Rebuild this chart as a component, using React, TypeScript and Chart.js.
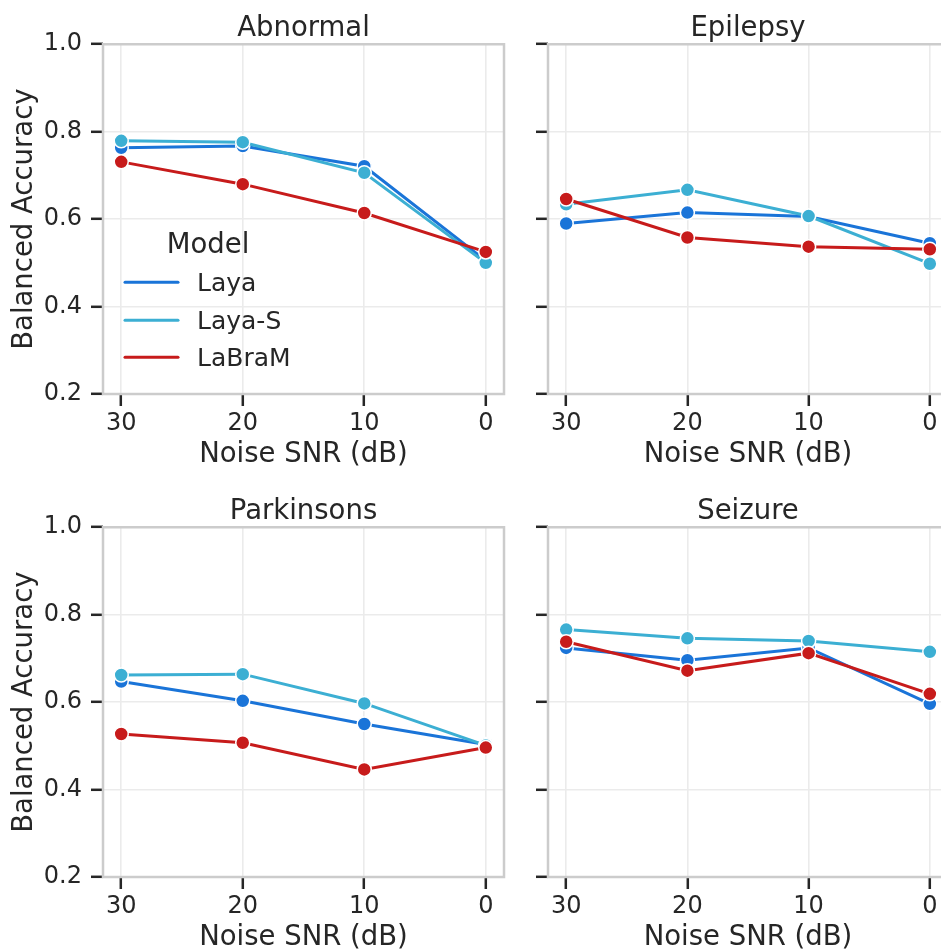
import React, { useEffect, useRef } from "react";
import { Chart, registerables } from "chart.js";

Chart.register(...registerables);

// ---------------- data ----------------
const SNR = [30, 20, 10, 0];
const X_TICKS = [30, 20, 10, 0];
const Y_TICKS = [0.2, 0.4, 0.6, 0.8, 1.0];
const MODELS = ["Laya", "Laya-S", "LaBraM"];
const COLORS = ["#1a74d8", "#3cafd3", "#c71b1b"];

const ABNORMAL_LAYA = [0.763, 0.767, 0.721, 0.505];
const ABNORMAL_LAYA_S = [0.779, 0.776, 0.706, 0.5];
const ABNORMAL_LABRAM = [0.731, 0.68, 0.614, 0.525];

const EPILEPSY_LAYA = [0.59, 0.615, 0.606, 0.545];
const EPILEPSY_LAYA_S = [0.634, 0.667, 0.607, 0.498];
const EPILEPSY_LABRAM = [0.646, 0.558, 0.537, 0.531];

const PARKINSONS_LAYA = [0.647, 0.603, 0.55, 0.503];
const PARKINSONS_LAYA_S = [0.662, 0.664, 0.597, 0.501];
const PARKINSONS_LABRAM = [0.527, 0.507, 0.446, 0.496];

const SEIZURE_LAYA = [0.724, 0.696, 0.724, 0.596];
const SEIZURE_LAYA_S = [0.766, 0.746, 0.74, 0.715];
const SEIZURE_LABRAM = [0.738, 0.672, 0.712, 0.619];

// ---------------- styling ----------------
const FONT = "'DejaVu Sans', 'Liberation Sans', sans-serif";
const TEXT = "#262626";
const GRID = "#ebebeb";
const SPINE = "#cccccc";

const spinesPlugin = {
  id: "spines",
  beforeDatasetsDraw(chart: any) {
    const { ctx, chartArea: a } = chart;
    ctx.save();
    ctx.strokeStyle = SPINE;
    ctx.lineWidth = 2.5;
    ctx.strokeRect(a.left, a.top, a.right - a.left, a.bottom - a.top);
    ctx.restore();
  },
};

const legendPlugin = {
  id: "modelLegend",
  afterDatasetsDraw(chart: any) {
    const { ctx, chartArea: a } = chart;
    ctx.save();
    ctx.fillStyle = TEXT;
    ctx.textBaseline = "alphabetic";
    ctx.textAlign = "center";
    ctx.font = `27.5px ${FONT}`;
    ctx.fillText("Model", a.left + 105, a.top + 209);
    const lineY = [238, 276, 313];
    const textY = [247, 284.5, 322];
    ctx.textAlign = "left";
    ctx.font = `25px ${FONT}`;
    MODELS.forEach((m, i) => {
      ctx.strokeStyle = COLORS[i];
      ctx.lineWidth = 3;
      ctx.lineCap = "round";
      ctx.beginPath();
      ctx.moveTo(a.left + 22, a.top + lineY[i]);
      ctx.lineTo(a.left + 75, a.top + lineY[i]);
      ctx.stroke();
      ctx.fillStyle = TEXT;
      ctx.fillText(m, a.left + 94, a.top + textY[i]);
    });
    ctx.restore();
  },
};

type PanelProps = {
  title: string;
  series: number[][];
  left: number;
  top: number;
  width: number;
  height: number;
  yAxisWidth: number;
  padRight: number;
  chartBottom: number;
  showYLabels: boolean;
  showLegend: boolean;
};

function Panel(p: PanelProps) {
  const ref = useRef<HTMLCanvasElement>(null);
  useEffect(() => {
    if (!ref.current) return;
    const datasets = MODELS.map((m, i) => ({
      label: m,
      data: SNR.map((x, j) => ({ x, y: p.series[i][j] })),
      borderColor: COLORS[i],
      backgroundColor: COLORS[i],
      borderWidth: 3,
      pointRadius: 7,
      pointHoverRadius: 7,
      pointBackgroundColor: COLORS[i],
      pointBorderColor: "#ffffff",
      pointBorderWidth: 1.5,
      tension: 0,
      order: MODELS.length - 1 - i,
      clip: false as any,
    }));
    const tickFont = { family: FONT, size: 24 };
    const labelFont = { family: FONT, size: 27.5 };
    const chart = new Chart(ref.current, {
      type: "line",
      data: { datasets },
      plugins: [spinesPlugin, ...(p.showLegend ? [legendPlugin] : [])],
      options: {
        animation: false,
        responsive: false,
        devicePixelRatio: 1,
        events: [],
        layout: { padding: { left: 0, right: p.padRight, top: 0, bottom: 0 } },
        plugins: {
          legend: { display: false },
          tooltip: { enabled: false },
          title: {
            display: true,
            text: p.title,
            color: TEXT,
            font: { family: FONT, size: 27.5, weight: "normal" as any, lineHeight: 1.1 },
            padding: { top: 14, bottom: 0 },
            fullSize: false,
          },
        },
        scales: {
          x: {
            type: "linear",
            min: -1.5,
            max: 31.5,
            reverse: true,
            afterBuildTicks: (s: any) => {
              s.ticks = X_TICKS.map((v) => ({ value: v }));
            },
            afterFit: (s: any) => {
              s.height = p.height - p.chartBottom;
            },
            ticks: {
              color: TEXT,
              font: tickFont,
              padding: 3,
              maxRotation: 0,
              autoSkip: false,
              callback: (v: any) => String(v),
            },
            grid: {
              color: GRID,
              lineWidth: 1.6,
              tickColor: TEXT,
              tickLength: 12,
              tickWidth: 2.5,
            },
            border: { display: false },
            title: {
              display: true,
              text: "Noise SNR (dB)",
              color: TEXT,
              font: labelFont,
              padding: { top: 0, bottom: 4 },
            },
          },
          y: {
            type: "linear",
            min: 0.2,
            max: 1.0,
            afterBuildTicks: (s: any) => {
              s.ticks = Y_TICKS.map((v) => ({ value: v }));
            },
            afterFit: (s: any) => {
              s.width = p.yAxisWidth;
            },
            ticks: {
              display: p.showYLabels,
              color: TEXT,
              font: tickFont,
              padding: 9,
              callback: (v: any) => Number(v).toFixed(1),
            },
            grid: {
              color: GRID,
              lineWidth: 1.6,
              tickColor: TEXT,
              tickLength: 12,
              tickWidth: 2.5,
            },
            border: { display: false },
            title: {
              display: p.showYLabels,
              text: "Balanced Accuracy",
              color: TEXT,
              font: labelFont,
              padding: { top: 8.5, bottom: 0 },
            },
          },
        },
      } as any,
    });
    return () => chart.destroy();
  }, []);
  return (
    <canvas
      ref={ref}
      width={p.width}
      height={p.height}
      style={{
        position: "absolute",
        left: p.left,
        top: p.top,
        width: p.width,
        height: p.height,
      }}
    />
  );
}

export default function App() {
  const common = { width: 0, height: 475, chartBottom: 394 };
  return (
    <div
      style={{
        position: "absolute",
        left: 0,
        top: 0,
        width: 941,
        height: 951,
        overflow: "hidden",
        background: "#ffffff",
      }}
    >
      <Panel
        {...common}
        title="Abnormal"
        series={[ABNORMAL_LAYA, ABNORMAL_LAYA_S, ABNORMAL_LABRAM]}
        left={0}
        top={0}
        width={520}
        yAxisWidth={103}
        padRight={16}
        showYLabels={true}
        showLegend={true}
      />
      <Panel
        {...common}
        title="Epilepsy"
        series={[EPILEPSY_LAYA, EPILEPSY_LAYA_S, EPILEPSY_LABRAM]}
        left={520}
        top={0}
        width={440}
        yAxisWidth={28}
        padRight={12}
        showYLabels={false}
        showLegend={false}
      />
      <Panel
        {...common}
        title="Parkinsons"
        series={[PARKINSONS_LAYA, PARKINSONS_LAYA_S, PARKINSONS_LABRAM]}
        left={0}
        top={483}
        width={520}
        yAxisWidth={103}
        padRight={16}
        showYLabels={true}
        showLegend={false}
      />
      <Panel
        {...common}
        title="Seizure"
        series={[SEIZURE_LAYA, SEIZURE_LAYA_S, SEIZURE_LABRAM]}
        left={520}
        top={483}
        width={440}
        yAxisWidth={28}
        padRight={12}
        showYLabels={false}
        showLegend={false}
      />
    </div>
  );
}
